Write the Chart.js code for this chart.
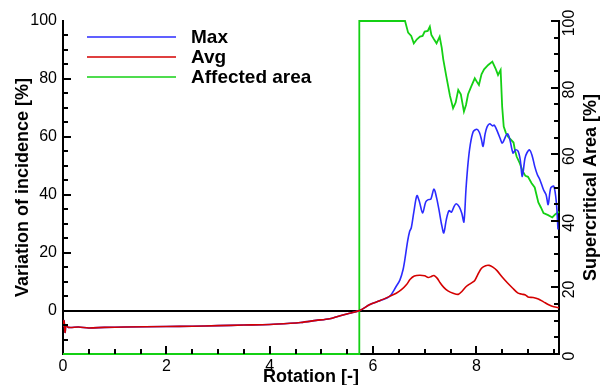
<!DOCTYPE html>
<html>
<head>
<meta charset="utf-8">
<script src="https://cdn.jsdelivr.net/npm/chart.js@4/dist/chart.umd.min.js"></script>
<style>
  body { margin: 0; background: #fff; }
  canvas { display: block; }
</style>
</head>
<body>
<canvas id="myChart" width="604" height="385"></canvas>
<script>
// shared part of Max and Avg (they are the same curve up to ~6.3)
var startX = [0, 0.02, 0.04, 0.06, 0.1, 0.3, 0.5, 0.8, 1.2, 2.0, 2.5, 3.0, 3.5, 4.0, 4.4, 4.6, 4.9, 5.16, 5.4, 5.55, 5.74, 5.94, 6.13, 6.32];
var startY = [-5.5, -3.5, -7.5, -5.0, -5.8, -5.7, -6.0, -5.8, -5.7, -5.5, -5.4, -5.2, -5.0, -4.8, -4.4, -4.1, -3.4, -2.8, -1.6, -0.9, 0, 2.1, 3.4, 4.9];

var maxX = startX.concat([6.45, 6.52, 6.58, 6.62, 6.67, 6.71, 6.74, 6.79, 6.85, 6.9, 6.96, 7.02, 7.07, 7.12, 7.18, 7.23, 7.28, 7.33, 7.37, 7.42, 7.47, 7.52, 7.57, 7.61, 7.67, 7.72, 7.76, 7.8, 7.84, 7.88, 7.94, 8.01, 8.06, 8.1, 8.13, 8.17, 8.21, 8.26, 8.31, 8.35, 8.42, 8.46, 8.5, 8.54, 8.58, 8.61, 8.65, 8.71, 8.76, 8.81, 8.85, 8.89, 8.94, 8.98, 9.03, 9.08, 9.13, 9.18, 9.23, 9.3, 9.35, 9.39, 9.44, 9.5, 9.55, 9.58]);
var maxY = startY.concat([8.4, 10.5, 14, 18, 24, 27.4, 28.5, 34, 39.7, 37.5, 33.7, 37.5, 38.3, 38.5, 42, 39, 34.5, 29.5, 26.8, 31.5, 34.5, 34, 36, 36.9, 35.8, 33.5, 30.6, 42, 51, 57, 61.8, 62.6, 61.5, 59, 56.7, 61, 63.5, 64.5, 63.8, 64, 61.3, 59.5, 57.8, 59, 60.7, 61, 59, 54.4, 55.5, 55, 52, 46.3, 52.5, 54.5, 55.5, 53.5, 49.8, 47, 45.2, 41.7, 40, 36.6, 42.3, 42.9, 37.1, 28]);

var avgX = startX.concat([6.45, 6.55, 6.65, 6.72, 6.8, 6.9, 7.0, 7.07, 7.13, 7.18, 7.24, 7.3, 7.37, 7.45, 7.55, 7.65, 7.72, 7.81, 7.9, 7.97, 8.03, 8.1, 8.18, 8.25, 8.32, 8.4, 8.5, 8.6, 8.7, 8.8, 8.87, 8.95, 9.0, 9.1, 9.2, 9.3, 9.4, 9.5, 9.6]);
var avgY = startY.concat([6.0, 7.2, 9.0, 10.8, 11.9, 12.2, 12.0, 11.4, 11.8, 12.1, 11.2, 9.6, 8.0, 6.8, 6.0, 5.6, 6.6, 8.4, 9.5, 10.4, 12.5, 14.6, 15.5, 15.6, 15.0, 13.8, 11.6, 9.6, 7.8, 6.1, 5.7, 5.4, 4.7, 4.5, 4.0, 3.0, 2.0, 1.3, 1.0]);

// affected area, right axis
var areaX = [0, 5.735, 5.735, 6.62, 6.68, 6.74, 6.79, 6.85, 6.91, 6.96, 7.0, 7.06, 7.1, 7.13, 7.18, 7.23, 7.29, 7.33, 7.36, 7.42, 7.49, 7.55, 7.6, 7.65, 7.7, 7.76, 7.8, 7.84, 7.9, 7.97, 8.02, 8.05, 8.1, 8.15, 8.23, 8.31, 8.37, 8.42, 8.47, 8.5, 8.53, 8.57, 8.61, 8.66, 8.72, 8.75, 8.78, 8.84, 8.9, 8.95, 9.0, 9.07, 9.13, 9.2, 9.25, 9.3, 9.39, 9.47, 9.53, 9.6];
var areaY = [0, 0, 100, 100, 96.5, 95.5, 93.3, 94.5, 95.3, 95.5, 96.8, 97, 98.3, 95.8, 94.5, 93.3, 95.3, 92, 88.5, 83.3, 77.5, 73.8, 75.5, 79.3, 78, 72.8, 74.8, 78, 80.3, 82.8, 81.5, 80.8, 84, 85.5, 86.8, 87.8, 85.8, 83.8, 85.3, 74.3, 68.3, 66.5, 65.3, 64.5, 63.5, 61, 59.3, 57.3, 54.8, 53.5, 53.2, 51.3, 50, 45.5, 44, 42.3, 41.7, 41, 42, 42.7];

var seriesNames = ['Max', 'Avg', 'Affected area'];
var seriesColors = ['#2b2bff', '#d40000', '#14d014'];
var xTickLabels = [0, 2, 4, 6, 8];
var yTickLabels = [0, 20, 40, 60, 80, 100];
var y2TickLabels = [0, 20, 40, 60, 80, 100];

var FONT = '"Liberation Sans", Arial, Helvetica, sans-serif';

function pts(xs, ys) {
    var out = [];
    for (var i = 0; i < xs.length; i++) out.push({x: xs[i], y: ys[i]});
    return out;
}
function isLabel(list, v) {
    for (var i = 0; i < list.length; i++) {
        if (Math.abs(list[i] - v) < 1e-6) return true;
    }
    return false;
}

// inward tick marks, right tick labels, titles and the legend box
const decorations = {
    id: 'decorations',
    afterDraw(chart) {
        const c = chart.ctx;
        const area = chart.chartArea;
        const sx = chart.scales.x, sy = chart.scales.y, sy2 = chart.scales.y2;
        const midY = (area.top + area.bottom) / 2;
        const L = Math.round(area.left), R = Math.round(area.right), B = Math.round(area.bottom);
        c.save();

        // tick marks pointing into the plot (major 8px, minor 5px)
        c.fillStyle = '#000';
        for (let i = 1; i < 20; i++) {
            const v = i * 0.5;
            const px = Math.round(sx.getPixelForValue(v));
            const len = isLabel(xTickLabels, v) ? 8 : 5;
            c.fillRect(px - 1, B - len, 2, len);
        }
        for (let i = -2; i < 20; i++) {
            const v = i * 5;
            const py = Math.round(sy.getPixelForValue(v));
            const len = isLabel(yTickLabels, v) ? 8 : 5;
            c.fillRect(L, py - 1, len, 2);
        }
        for (let i = 1; i <= 20; i++) {
            const v = i * 5;
            const py = Math.round(sy2.getPixelForValue(v));
            const len = isLabel(y2TickLabels, v) ? 8 : 5;
            c.fillRect(R - len, py - 1, len, 2);
        }

        c.textAlign = 'center';
        c.textBaseline = 'middle';

        // right tick labels, turned to read bottom to top
        c.font = '16px ' + FONT;
        y2TickLabels.forEach(v => {
            c.save();
            c.translate(area.right + 11, sy2.getPixelForValue(v) + 2);
            c.rotate(-Math.PI / 2);
            c.fillText(String(v), 0, 0);
            c.restore();
        });

        c.font = 'bold 18px ' + FONT;
        // left title
        c.save();
        c.translate(23, midY);
        c.rotate(-Math.PI / 2);
        c.fillText('Variation of incidence [%]', 0, 0);
        c.restore();
        // right title, reads bottom to top as well
        c.save();
        c.translate(591, midY);
        c.rotate(-Math.PI / 2);
        c.fillText('Supercritical Area [%]', 0, 0);
        c.restore();
        // x title
        c.textBaseline = 'alphabetic';
        c.fillText('Rotation [-]', (area.left + area.right) / 2, 382);

        // legend
        c.font = 'bold 19px ' + FONT;
        c.textAlign = 'left';
        c.textBaseline = 'middle';
        chart.data.datasets.forEach((ds, i) => {
            const y = 37 + i * 20;
            c.strokeStyle = ds.borderColor;
            c.lineWidth = 1.5;
            c.beginPath();
            c.moveTo(87, y);
            c.lineTo(176, y);
            c.stroke();
            c.fillText(ds.label, 191, y + 1);
        });
        c.restore();
    }
};

const ctx = document.getElementById('myChart').getContext('2d');
let myChart = new Chart(ctx, {
    type: 'line',
    data: {
        datasets: [
            {
                label: seriesNames[0],
                data: pts(maxX, maxY),
                yAxisID: 'y',
                borderColor: seriesColors[0],
                borderWidth: 1.6,
                pointRadius: 0,
                tension: 0.3,
                order: 2
            },
            {
                label: seriesNames[1],
                data: pts(avgX, avgY),
                yAxisID: 'y',
                borderColor: seriesColors[1],
                borderWidth: 1.6,
                pointRadius: 0,
                tension: 0.3,
                order: 1
            },
            {
                label: seriesNames[2],
                data: pts(areaX, areaY),
                yAxisID: 'y2',
                borderColor: seriesColors[2],
                borderWidth: 1.8,
                pointRadius: 0,
                tension: 0,
                clip: false,
                order: 3
            }
        ]
    },
    options: {
        responsive: false,
        animation: false,
        layout: { padding: { top: 21, left: 0, right: 0, bottom: 0 } },
        plugins: {
            legend: { display: false },
            tooltip: { enabled: false }
        },
        scales: {
            x: {
                type: 'linear',
                min: 0,
                max: 9.6,
                grid: { display: false },
                border: { display: true, color: '#000', width: 2 },
                ticks: {
                    stepSize: 0.5,
                    autoSkip: false,
                    maxRotation: 0,
                    padding: -5,
                    color: '#000',
                    font: { family: FONT, size: 16 },
                    callback: v => isLabel(xTickLabels, v) ? String(Math.round(v)) : ''
                },
                afterFit: s => { s.height = 31; }
            },
            y: {
                type: 'linear',
                position: 'left',
                min: -15,
                max: 100,
                grid: {
                    drawTicks: false,
                    lineWidth: 2,
                    color: c => (c.tick && c.tick.value === 0) ? '#000' : 'rgba(0,0,0,0)'
                },
                border: { display: true, color: '#000', width: 2 },
                ticks: {
                    stepSize: 5,
                    autoSkip: false,
                    padding: 6,
                    color: '#000',
                    font: { family: FONT, size: 16 },
                    callback: v => isLabel(yTickLabels, v) ? String(v) : ''
                },
                afterFit: s => { s.width = 63; }
            },
            y2: {
                type: 'linear',
                position: 'right',
                min: 0,
                max: 100,
                grid: { display: false },
                border: { display: true, color: '#000', width: 2 },
                ticks: {
                    display: false,
                    stepSize: 5,
                    autoSkip: false
                },
                afterFit: s => { s.width = 45; }
            }
        }
    },
    plugins: [decorations]
});
</script>
</body>
</html>
